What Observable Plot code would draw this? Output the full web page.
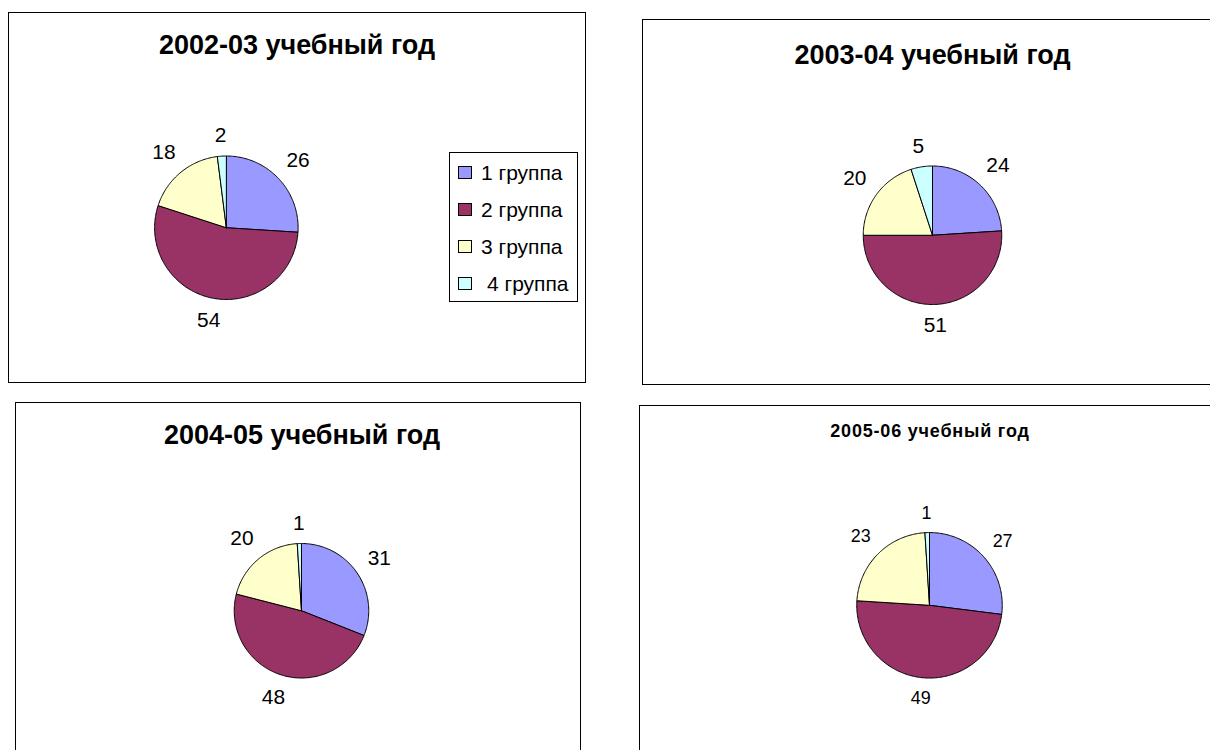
<!DOCTYPE html>
<html>
<head>
<meta charset="utf-8">
<script src="https://cdn.jsdelivr.net/npm/d3@7"></script>
<script src="https://cdn.jsdelivr.net/npm/@observablehq/plot@0.6"></script>
<style>
  html, body { margin: 0; padding: 0; background: #fff; }
  body { width: 1210px; height: 750px; overflow: hidden; position: relative;
         font-family: "Liberation Sans", Arial, sans-serif; }
  .panel { position: absolute; box-sizing: border-box; border: 1.5px solid #000; background: #fff; overflow: hidden; }
  .panel svg { position: absolute; left: 0; top: 0; }
  .title { position: absolute; left: 0; right: 0; text-align: center; font-weight: bold; color: #000; white-space: nowrap; }
  .legend { position: absolute; box-sizing: border-box; border: 1px solid #000; background: #fff; }
  .legend .row { position: absolute; left: 0; right: 0; height: 24px; }
  .legend .sw { position: absolute; left: 8px; top: 5px; width: 14px; height: 13px; box-sizing: border-box; border: 1px solid #000; }
  .legend .lb { position: absolute; left: 31px; top: 0; font-size: 21px; line-height: 24px; color: #000; white-space: pre; }
</style>
</head>
<body>
<script>
// ---- data ----
const groups = ["1 группа", "2 группа", "3 группа", "4 группа"];
const colors = ["#9999FF", "#993366", "#FFFFCC", "#CCFFFF"];
const titles = ["2002-03 учебный год", "2003-04 учебный год", "2004-05 учебный год", "2005-06 учебный год"];
const values2002 = [26, 54, 18, 2];
const values2003 = [24, 51, 20, 5];
const values2004 = [31, 48, 20, 1];
const values2005 = [27, 49, 23, 1];

// ---- layout (page pixels) ----
const panels = [
  {values: values2002, title: titles[0], left: 8,   top: 12,  w: 578, h: 371, cx: 217.6, cy: 215,   r: 72,   titleY: 17, titleDx: 0, titleSize: 27, labelSize: 21, legend: true},
  {values: values2003, title: titles[1], left: 642, top: 19,  w: 581, h: 366, cx: 290,   cy: 215.5, r: 69.5, titleY: 20, titleDx: 0, titleSize: 27, labelSize: 21},
  {values: values2004, title: titles[2], left: 15,  top: 402, w: 566, h: 380, cx: 286,   cy: 208,   r: 67.5, titleY: 17, titleDx: 4, titleSize: 27, labelSize: 21},
  {values: values2005, title: titles[3], left: 639, top: 405, w: 582, h: 380, cx: 290,   cy: 199.5, r: 73,   titleY: 14, titleDx: 0, titleSize: 18, labelSize: 18, letterSpacing: 0.8}
];

function sliceData(values) {
  const arcs = d3.pie().sort(null).startAngle(0).endAngle(2 * Math.PI)(values);
  const pts = [];
  arcs.forEach((a, i) => {
    const n = Math.max(2, Math.ceil((a.endAngle - a.startAngle) / (Math.PI / 180)));
    pts.push({g: groups[i], x: 0, y: 0});
    for (let k = 0; k <= n; k++) {
      const t = a.startAngle + (a.endAngle - a.startAngle) * k / n;
      pts.push({g: groups[i], x: Math.sin(t), y: Math.cos(t)});
    }
    pts.push({g: groups[i], x: 0, y: 0});
  });
  return {arcs, pts};
}

function labelData(arcs, r, fs) {
  return arcs.map((a) => {
    const mid = (a.startAngle + a.endAngle) / 2;
    const s = Math.sin(mid), c = Math.cos(mid);
    const w = String(a.value).length * 0.556 * fs, h = 0.72 * fs;
    const off = 13 + Math.abs(s) * w / 2 + Math.abs(c) * h / 2;
    const d = (r + off) / r;
    return {x: s * d, y: c * d, text: String(a.value)};
  });
}

panels.forEach((p) => {
  const div = document.createElement("div");
  div.className = "panel";
  Object.assign(div.style, {left: p.left + "px", top: p.top + "px", width: p.w + "px", height: p.h + "px"});
  document.body.appendChild(div);

  const {arcs, pts} = sliceData(p.values);
  const labels = labelData(arcs, p.r, p.labelSize);

  const chart = Plot.plot({
    width: p.w,
    height: p.h,
    margin: 0,
    style: {background: "transparent", fontFamily: "'Liberation Sans', Arial, sans-serif", overflow: "visible"},
    x: {domain: [-1, 1], range: [p.cx - p.r, p.cx + p.r], axis: null},
    y: {domain: [-1, 1], range: [p.cy + p.r, p.cy - p.r], axis: null},
    color: {domain: groups, range: colors},
    marks: [
      Plot.line(pts, {x: "x", y: "y", z: "g", fill: "g", stroke: "#000", strokeWidth: 1, strokeLinejoin: "round"}),
      Plot.text(labels, {x: "x", y: "y", text: "text", fontSize: p.labelSize, fill: "#000"})
    ]
  });
  div.appendChild(chart);

  const t = document.createElement("div");
  t.className = "title";
  t.textContent = p.title;
  Object.assign(t.style, {top: p.titleY + "px", left: (p.titleDx * 2) + "px", fontSize: p.titleSize + "px",
                          lineHeight: (p.titleSize + 4) + "px", letterSpacing: (p.letterSpacing || 0) + "px"});
  div.appendChild(t);

  if (p.legend) {
    const lg = document.createElement("div");
    lg.className = "legend";
    Object.assign(lg.style, {left: "440px", top: "139px", width: "129px", height: "150px"});
    const rowY = [8, 45, 82, 119];
    groups.forEach((g, i) => {
      const row = document.createElement("div");
      row.className = "row";
      row.style.top = rowY[i] + "px";
      const sw = document.createElement("div");
      sw.className = "sw";
      sw.style.background = colors[i];
      const lb = document.createElement("div");
      lb.className = "lb";
      lb.textContent = g;
      if (i === 3) lb.style.left = "37px";
      row.appendChild(sw);
      row.appendChild(lb);
      lg.appendChild(row);
    });
    div.appendChild(lg);
  }
});
</script>
</body>
</html>
